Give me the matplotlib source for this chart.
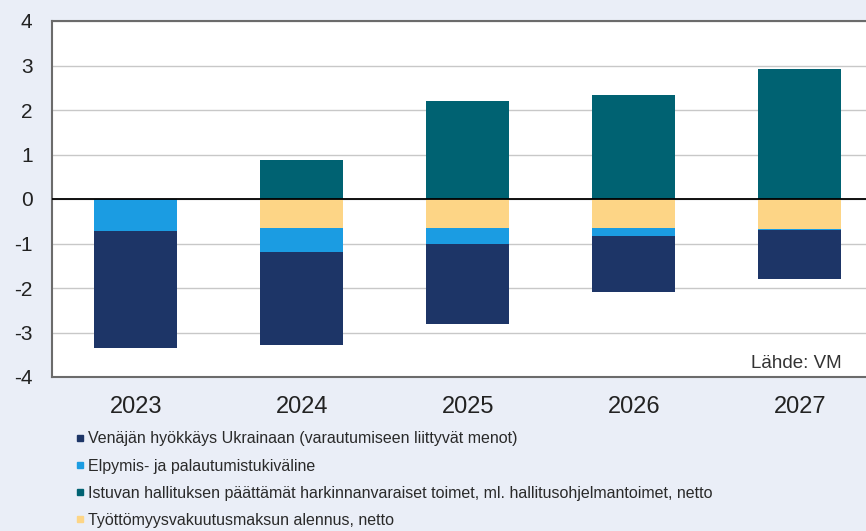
import matplotlib.pyplot as plt
from matplotlib.lines import Line2D

years = ['2023', '2024', '2025', '2026', '2027']
venaja = [-2.63, -2.09, -1.80, -1.26, -1.09]
elpymis = [-0.72, -0.54, -0.36, -0.18, -0.03]
istuvan = [0.0, 0.88, 2.20, 2.34, 2.92]
tyottomyys = [0.0, -0.65, -0.65, -0.65, -0.67]

labels = ['Venäjän hyökkäys Ukrainaan (varautumiseen liittyvät menot)',
          'Elpymis- ja palautumistukiväline',
          'Istuvan hallituksen päättämät harkinnanvaraiset toimet, ml. hallitusohjelmantoimet, netto',
          'Työttömyysvakuutusmaksun alennus, netto']
colors = ['#1d3567', '#1b9ce2', '#006272', '#fdd586']

plt.rcParams['font.family'] = ['Liberation Sans', 'DejaVu Sans']
plt.rcParams['axes.unicode_minus'] = False

fig = plt.figure(figsize=(8.66, 5.31), dpi=100, facecolor='#eaeef7')
ax = fig.add_axes([52 / 866, 1 - 377 / 531, 1 - 52 / 866 + 0.01, 356 / 531])
ax.set_facecolor('white')

x = range(len(years))
w = 0.5
# negatiivinen pino: tyottomyys, elpymis, venaja
bottom = [0.0] * len(years)
ax.bar(x, tyottomyys, w, bottom=bottom, color=colors[3], zorder=3)
bottom = [b + v for b, v in zip(bottom, tyottomyys)]
ax.bar(x, elpymis, w, bottom=bottom, color=colors[1], zorder=3)
bottom = [b + v for b, v in zip(bottom, elpymis)]
ax.bar(x, venaja, w, bottom=bottom, color=colors[0], zorder=3)
ax.bar(x, istuvan, w, color=colors[2], zorder=3)

ax.axhline(0, color='black', lw=1.3, zorder=4)
ax.set_ylim(-4, 4)
ax.set_xlim(-0.505, 4.45)
ax.set_yticks(range(-4, 5))
ax.yaxis.grid(True, color='#c8c8c8', lw=1, zorder=0)
ax.set_xticks(list(x))
ax.set_xticklabels(years, fontsize=17, color='#222222')
ax.tick_params(axis='y', labelsize=15, length=0, pad=14, labelcolor='#222222')
ax.tick_params(axis='x', length=0, pad=14)
for s in ax.spines.values():
    s.set_color('#6b6b6b')
    s.set_linewidth(1.5)

fig.text(842 / 866, 1 - 363 / 531, 'Lähde: VM', ha='right', va='center',
         fontsize=13.5, color='#333333')

handles = [Line2D([], [], marker='s', ls='', color=c, markersize=4) for c in colors]
fig.legend(handles, labels, loc='upper left', bbox_to_anchor=(70 / 866, 1 - 425 / 531),
           frameon=False, fontsize=11.5, handlelength=0.4, handletextpad=0.3,
           labelspacing=0.76, borderaxespad=0, labelcolor='#2a2a2a')

plt.savefig('out.png', dpi=100, facecolor=fig.get_facecolor())
